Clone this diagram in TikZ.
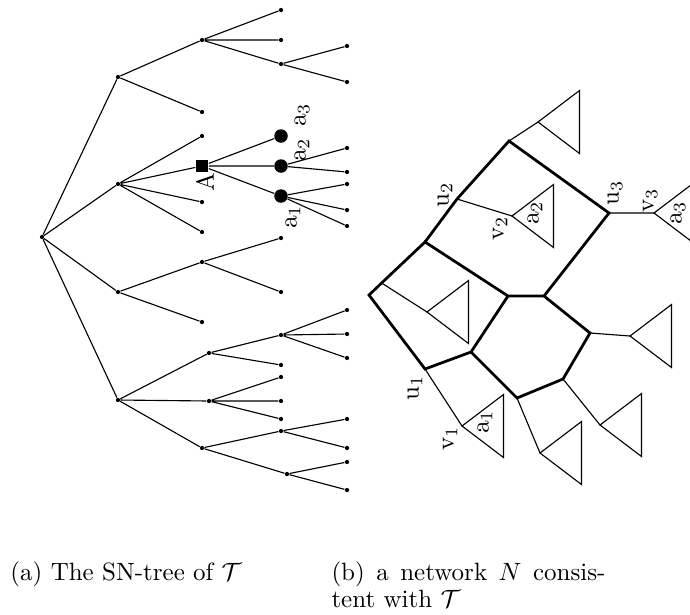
\documentclass[tikz,border=0pt]{standalone}
\usepackage{amsmath}
\newcommand\drawtri[1]{\draw[tri] (#1) -- ++(41.5,-31.5) -- ++(0,63) -- cycle;}
\begin{document}
\begin{tikzpicture}[x=0.4pt,y=-0.4pt,
 dot/.style={circle,fill,inner sep=0,minimum size=1.7pt},
 bigdot/.style={circle,fill,inner sep=0,minimum size=5.4pt},
 sqnode/.style={rectangle,fill,inner sep=0,minimum size=5pt},
 edge/.style={line width=0.45pt},
 thk/.style={line width=1.1pt},
 lbl/.style={rotate=90,inner sep=0},
 tri/.style={line width=0.45pt,line join=miter}]
\clip (0,0) rectangle (690,614);
% ---------- (a) tree ----------
\node[dot] (r) at (42,237) {};
\node[dot] (n1) at (118,77) {};
\node[dot] (n2) at (118,184) {};
\node[dot] (n3) at (118,292) {};
\node[dot] (n4) at (118,400) {};
\node[dot] (n11) at (202,40) {};
\node[dot] (n12) at (202,112) {};
\node[dot] (n111) at (281,10) {};
\node[dot] (n112) at (281,40) {};
\node[dot] (n113) at (281,64) {};
\node[dot] (n1131) at (347,46) {};
\node[dot] (n1132) at (347,82) {};
\node[dot] (n21) at (202,136) {};
\node[sqnode] (A) at (202,166) {};
\node[dot] (n23) at (202,202) {};
\node[dot] (n24) at (202,232) {};
\node[bigdot] (a3) at (281,136) {};
\node[bigdot] (a2) at (281,166) {};
\node[bigdot] (a1) at (281,196) {};
\node[dot] (a21) at (347,148) {};
\node[dot] (a22) at (347,172) {};
\node[dot] (a11) at (347,184) {};
\node[dot] (a12) at (347,210) {};
\node[dot] (a13) at (347,226) {};
\node[dot] (n31) at (202,262) {};
\node[dot] (n32) at (202,322) {};
\node[dot] (n311) at (281,238) {};
\node[dot] (n312) at (281,292) {};
\node[dot] (n41) at (209,353) {};
\node[dot] (n42) at (209,401) {};
\node[dot] (n43) at (202,448) {};
\node[dot] (n411) at (281,335) {};
\node[dot] (n412) at (281,365) {};
\node[dot] (n4111) at (347,310) {};
\node[dot] (n4112) at (347,334) {};
\node[dot] (n4113) at (347,358) {};
\node[dot] (n421) at (281,377) {};
\node[dot] (n422) at (281,401) {};
\node[dot] (n423) at (281,419) {};
\node[dot] (n431) at (281,431) {};
\node[dot] (n432) at (287,474) {};
\node[dot] (n4311) at (347,419) {};
\node[dot] (n4312) at (347,448) {};
\node[dot] (n4321) at (347,462) {};
\node[dot] (n4322) at (347,490) {};
\draw[edge] (r) -- (n1) (r) -- (n2) (r) -- (n3) (r) -- (n4)
  (n1) -- (n11) (n1) -- (n12)
  (n11) -- (n111) (n11) -- (n112) (n11) -- (n113)
  (n113) -- (n1131) (n113) -- (n1132)
  (n2) -- (n21) (n2) -- (A) (n2) -- (n23) (n2) -- (n24)
  (A) -- (a3) (A) -- (a2) (A) -- (a1)
  (a2) -- (a21) (a2) -- (a22)
  (a1) -- (a11) (a1) -- (a12) (a1) -- (a13)
  (n3) -- (n31) (n3) -- (n32)
  (n31) -- (n311) (n31) -- (n312)
  (n4) -- (n41) (n4) -- (n42) (n4) -- (n43)
  (n41) -- (n411) (n41) -- (n412)
  (n411) -- (n4111) (n411) -- (n4112) (n411) -- (n4113)
  (n42) -- (n421) (n42) -- (n422) (n42) -- (n423)
  (n43) -- (n431) (n43) -- (n432)
  (n431) -- (n4311) (n431) -- (n4312)
  (n432) -- (n4321) (n432) -- (n4322);
\node[lbl] (lA) at (205,182) {A};
\node[lbl] (la3) at (302,115) {$\mathrm{a}_3$};
\node[lbl] (la2) at (302,150) {$\mathrm{a}_2$};
\node[lbl] (la1) at (293,217) {$\mathrm{a}_1$};
% ---------- (b) network ----------
\coordinate (P) at (509,141);
\coordinate (u2) at (457,199);
\coordinate (Q) at (425,242);
\coordinate (u3) at (609,213);
\coordinate (v3) at (654,213);
\coordinate (v2) at (512,216);
\coordinate (R) at (369,295);
\coordinate (Rb) at (381.6,283);
\coordinate (S) at (508,296);
\coordinate (T) at (544,296);
\coordinate (u1) at (425,369);
\coordinate (W) at (471,352);
\coordinate (X) at (517,398);
\coordinate (Y) at (590,333);
\coordinate (Z) at (563,379);
\coordinate (v1) at (462,426);
\coordinate (Pt) at (538,122);
\coordinate (Rt) at (427,312);
\coordinate (Yt) at (630,336);
\coordinate (Xt) at (540,453);
\coordinate (Zt) at (600,425);
\draw[edge] (P) -- (Pt) (u2) -- (v2) (u3) -- (v3) (Rb) -- (Rt)
  (Y) -- (Yt) (u1) -- (v1) (X) -- (Xt) (Z) -- (Zt);
\draw[thk,line join=miter] (Q) -- (u2) -- (P) -- (u3) -- (T);
\draw[thk,line join=miter] (S) -- (Q) -- (Rb) -- (R) -- (u1) -- (W) -- (S) -- (T) -- (Y) -- (Z) -- (X) -- (W);
\drawtri{Pt}
\drawtri{v2}
\drawtri{Rt}
\drawtri{Yt}
\drawtri{v1}
\drawtri{Xt}
\drawtri{Zt}
\drawtri{v3}
\node[lbl] (lu2) at (445,195) {$\mathrm{u}_2$};
\node[lbl] (lv2) at (500,228) {$\mathrm{v}_2$};
\node[lbl] (la2b) at (535,213) {$\mathrm{a}_2$};
\node[lbl] (lu3) at (615,193) {$\mathrm{u}_3$};
\node[lbl] (lv3) at (650,200) {$\mathrm{v}_3$};
\node[lbl] (la3b) at (678,213) {$\mathrm{a}_3$};
\node[lbl] (lu1) at (415,388) {$\mathrm{u}_1$};
\node[lbl] (lv1) at (450,438) {$\mathrm{v}_1$};
\node[lbl] (la1b) at (485,422) {$\mathrm{a}_1$};
% ---------- captions ----------
\node[anchor=base west,inner sep=0] (capa) at (10,580) {(a) The SN-tree of $\mathcal{T}$};
\node[anchor=base west,inner sep=0] (capb1) at (331,580) {\makebox[109.6pt][s]{(b) a network $N$ consis-}};
\node[anchor=base west,inner sep=0] (capb2) at (331,607) {tent with $\mathcal{T}$};
\end{tikzpicture}
\end{document}
